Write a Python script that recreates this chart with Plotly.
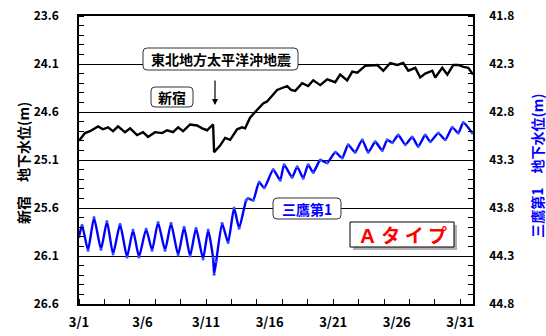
import plotly.graph_objects as go

# ---- data (x = day of March, fractional) ----
shinjuku_day = [1.00, 1.47, 1.87, 2.10, 2.50, 2.89, 3.28, 3.68, 4.07, 4.62, 5.02, 5.57, 6.04, 6.43, 6.98,
                7.54, 7.93, 8.40, 8.80, 9.19, 9.74, 10.29, 10.69, 11.08, 11.31, 11.55, 11.63, 12.10, 12.50,
                12.89, 13.44, 13.83, 14.07, 14.46, 14.86, 15.17, 15.49, 15.80, 16.20, 16.59, 16.98, 17.38,
                17.69, 18.01, 18.56, 19.03, 19.43, 19.98, 20.53, 21.16, 21.55, 22.10, 22.50, 22.89, 23.52,
                24.46, 24.94, 25.49, 26.04, 26.51, 26.91, 27.46, 27.85, 28.24, 28.80, 29.03, 29.58, 29.98,
                30.45, 30.84, 31.24, 31.63, 32.00]
shinjuku_lvl = [24.90, 24.82, 24.80, 24.78, 24.75, 24.78, 24.76, 24.80, 24.75, 24.81, 24.77, 24.84, 24.81,
                24.86, 24.81, 24.82, 24.79, 24.81, 24.76, 24.80, 24.73, 24.74, 24.77, 24.79, 24.76, 24.73,
                25.02, 24.95, 24.87, 24.89, 24.78, 24.76, 24.77, 24.66, 24.60, 24.56, 24.51, 24.49, 24.43,
                24.37, 24.35, 24.33, 24.37, 24.38, 24.30, 24.33, 24.27, 24.32, 24.26, 24.29, 24.21, 24.27,
                24.18, 24.19, 24.12, 24.11, 24.17, 24.09, 24.11, 24.09, 24.17, 24.14, 24.24, 24.20, 24.17,
                24.24, 24.14, 24.21, 24.11, 24.11, 24.13, 24.14, 24.21]

mitaka_day = [1.00, 1.24, 1.71, 2.18, 2.73, 3.20, 3.68, 4.23, 4.78, 5.25, 5.72, 6.28, 6.75, 7.22, 7.77,
              8.24, 8.80, 9.27, 9.74, 10.21, 10.76, 11.16, 11.55, 11.63, 11.79, 12.26, 12.73, 13.20, 13.60,
              14.15, 14.31, 14.70, 15.17, 15.57, 16.28, 16.83, 17.14, 17.77, 18.17, 18.64, 19.03, 19.43,
              19.98, 20.53, 21.16, 21.71, 22.18, 22.73, 23.28, 23.76, 24.31, 24.86, 25.25, 25.65, 26.12,
              26.67, 27.22, 27.69, 28.24, 28.64, 29.27, 29.82, 30.37, 30.84, 31.24, 31.94]
mitaka_lvl = [44.10, 43.98, 44.24, 43.90, 44.23, 43.94, 44.28, 43.97, 44.31, 44.03, 44.31, 44.02, 44.24,
              43.95, 44.24, 43.96, 44.29, 44.00, 44.30, 44.01, 44.33, 44.03, 44.32, 44.49, 44.36, 43.96,
              44.16, 43.80, 44.01, 43.72, 43.70, 43.72, 43.53, 43.59, 43.40, 43.51, 43.35, 43.48, 43.37,
              43.49, 43.35, 43.43, 43.30, 43.33, 43.22, 43.28, 43.14, 43.22, 43.09, 43.22, 43.11, 43.20,
              43.09, 43.12, 43.04, 43.14, 43.06, 43.16, 43.04, 43.11, 43.02, 43.09, 42.96, 43.02, 42.91,
              43.02]

x_tick_days = [1, 6, 11, 16, 21, 26, 31]
x_tick_text = ["3/1", "3/6", "3/11", "3/16", "3/21", "3/26", "3/31"]
left_ticks = [23.6, 24.1, 24.6, 25.1, 25.6, 26.1, 26.6]
right_ticks = [41.8, 42.3, 42.8, 43.3, 43.8, 44.3, 44.8]

FONT = "Noto Sans CJK JP"
W, H = 546, 336
L, R, T, B = 79, 73, 16, 32
PW, PH = W - L - R, H - T - B
XR = (1, 32)
YR = (23.6, 26.6)


def px2x(px):
    return XR[0] + (px - L) / PW * (XR[1] - XR[0])


def px2y(py):
    return YR[0] + (py - T) / PH * (YR[1] - YR[0])


def rbox(x0, y0, x1, y1, r=4):
    X0, X1 = px2x(x0), px2x(x1)
    Y0, Y1 = px2y(y0), px2y(y1)
    rx = px2x(x0 + r) - X0
    ry = px2y(y0 + r) - Y0
    return (f"M {X0+rx},{Y0} L {X1-rx},{Y0} Q {X1},{Y0} {X1},{Y0+ry} "
            f"L {X1},{Y1-ry} Q {X1},{Y1} {X1-rx},{Y1} L {X0+rx},{Y1} "
            f"Q {X0},{Y1} {X0},{Y1-ry} L {X0},{Y0+ry} Q {X0},{Y0} {X0+rx},{Y0} Z")


fig = go.Figure()
fig.add_trace(go.Scatter(x=mitaka_day, y=mitaka_lvl, mode="lines+markers", yaxis="y2",
                         line=dict(color="#0000ff", width=2.4, shape="spline", smoothing=0.5),
                         marker=dict(size=3, color="#3355ff"), showlegend=False))
fig.add_trace(go.Scatter(x=shinjuku_day, y=shinjuku_lvl, mode="lines",
                         line=dict(color="black", width=2.4), showlegend=False))

tickfont = dict(family=FONT, size=12, color="black", weight="bold")

fig.update_layout(
    width=W, height=H, margin=dict(l=L, r=R, t=T, b=B, autoexpand=False),
    paper_bgcolor="white", plot_bgcolor="white",
    xaxis=dict(range=list(XR), tickmode="array", tickvals=x_tick_days, ticktext=x_tick_text,
               ticks="", showgrid=False, zeroline=False, showline=True, mirror=True, automargin=False,
               linecolor="black", linewidth=1.5, ticklabelstandoff=6,
               tickfont=dict(family=FONT, size=13, color="black", weight="bold"),
               minor=dict(tickmode="array", tickvals=list(range(1, 32, 2)), ticks="inside",
                          ticklen=5, tickcolor="black", tickwidth=1, showgrid=False)),
    yaxis=dict(range=[YR[1], YR[0]], tickmode="array", tickvals=left_ticks, automargin=False,
               ticktext=[f"{v:.1f}" for v in left_ticks], ticks="", showgrid=True,
               gridcolor="black", gridwidth=1.2, zeroline=False, showline=True, mirror=True,
               linecolor="black", linewidth=1.5, tickfont=tickfont, ticklabelstandoff=16,
               minor=dict(tickmode="array", tickvals=[round(23.6 + 0.1 * i, 1) for i in range(31)],
                          ticks="inside", ticklen=5, tickcolor="black", tickwidth=1, showgrid=False)),
    yaxis2=dict(range=[right_ticks[-1], right_ticks[0]], overlaying="y", side="right",
                tickmode="array", tickvals=right_ticks, ticktext=[f"{v:.1f}" for v in right_ticks],
                ticks="", showgrid=False, zeroline=False, showline=True, linecolor="black",
                linewidth=1.5, tickfont=tickfont, ticklabelstandoff=12, automargin=False,
                minor=dict(tickmode="array", tickvals=[round(41.8 + 0.1 * i, 1) for i in range(31)],
                           ticks="inside", ticklen=5, tickcolor="black", tickwidth=1, showgrid=False)),
)

shapes = [
    dict(type="path", path=rbox(143, 48, 298, 70), xref="x", yref="y", fillcolor="white",
         line=dict(color="#333333", width=1), layer="above"),
    dict(type="path", path=rbox(151, 87, 193, 107), xref="x", yref="y", fillcolor="white",
         line=dict(color="#333333", width=1), layer="above"),
    dict(type="path", path=rbox(273, 198, 341, 219), xref="x", yref="y", fillcolor="white",
         line=dict(color="#333333", width=1), layer="above"),
    dict(type="rect", x0=px2x(353), x1=px2x(457), y0=px2y(225), y1=px2y(250), xref="x", yref="y",
         fillcolor="#b0b0b0", line=dict(width=0), layer="above"),
    dict(type="rect", x0=px2x(350), x1=px2x(454), y0=px2y(222), y1=px2y(247), xref="x", yref="y",
         fillcolor="white", line=dict(color="black", width=1), layer="above"),
]
fig.update_layout(shapes=shapes)

ann = [
    dict(x=px2x(220.5), y=px2y(59), text="東北地方太平洋沖地震",
         font=dict(family=FONT, size=14, color="black", weight="bold")),
    dict(x=px2x(172), y=px2y(97), text="新宿",
         font=dict(family=FONT, size=14, color="black", weight="bold")),
    dict(x=px2x(307), y=px2y(208.5), text="三鷹第1",
         font=dict(family=FONT, size=14, color="#0000ff", weight="bold")),
    dict(x=px2x(402), y=px2y(234.5), text="Ａ タ イ プ",
         font=dict(family=FONT, size=19, color="#ff0000", weight="bold")),
]
for a in ann:
    fig.add_annotation(xref="x", yref="y", showarrow=False, **a)

fig.add_annotation(xref="x", yref="y", axref="x", ayref="y", x=px2x(215), y=px2y(105),
                   ax=px2x(215), ay=px2y(79), text="", showarrow=True, arrowhead=2,
                   arrowsize=1, arrowwidth=1.2, arrowcolor="black")

fig.add_annotation(xref="paper", yref="paper", x=(23 - L) / PW, y=0.49, textangle=-90,
                   xanchor="center", yanchor="middle",
                   text="新宿　地下水位(m)", showarrow=False,
                   font=dict(family=FONT, size=14, color="black", weight="bold"))
fig.add_annotation(xref="paper", yref="paper", x=(537 - L) / PW, y=0.48, textangle=-90,
                   xanchor="center", yanchor="middle",
                   text="三鷹第1　地下水位(m)", showarrow=False,
                   font=dict(family=FONT, size=14, color="#0000ff", weight="bold"))

fig.write_html("out.html")
